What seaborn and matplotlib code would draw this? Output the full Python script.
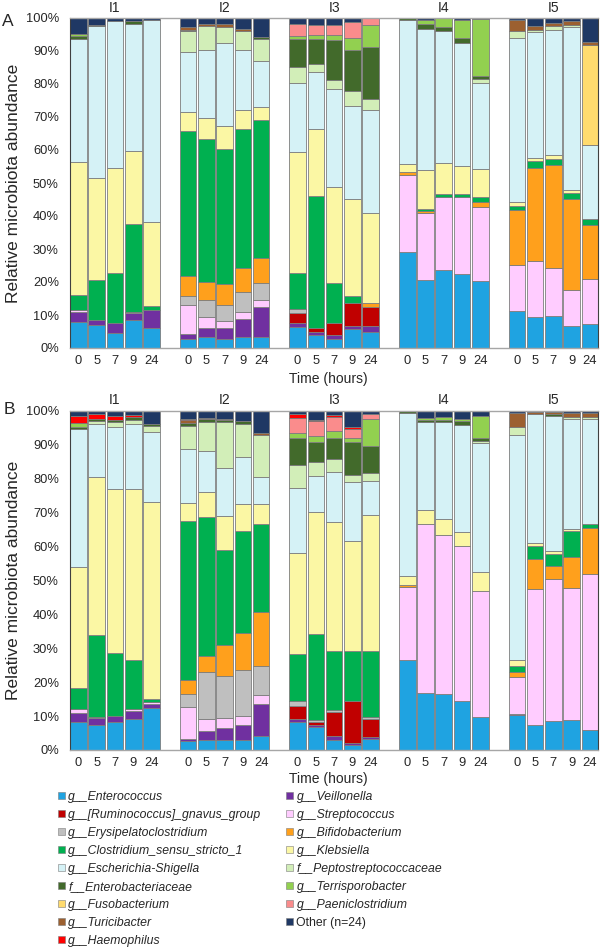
import numpy as np
import pandas as pd
import matplotlib
matplotlib.use("Agg")
import matplotlib.pyplot as plt
import seaborn as sns
from matplotlib.patches import Patch

# ---------------- data ----------------
times = ["0", "5", "7", "9", "24"]
individuals = ["I1", "I2", "I3", "I4", "I5"]

# stacking order, bottom -> top
taxa = ["ent", "vei", "rum", "str", "ery", "bif", "clo", "kle", "esc",
        "pep", "enb", "ter", "fus", "pae", "tur", "hae", "oth"]

names = {
    "ent": "g__Enterococcus", "rum": "g__[Ruminococcus]_gnavus_group",
    "ery": "g__Erysipelatoclostridium", "clo": "g__Clostridium_sensu_stricto_1",
    "esc": "g__Escherichia-Shigella", "enb": "f__Enterobacteriaceae",
    "fus": "g__Fusobacterium", "tur": "g__Turicibacter", "hae": "g__Haemophilus",
    "vei": "g__Veillonella", "str": "g__Streptococcus", "bif": "g__Bifidobacterium",
    "kle": "g__Klebsiella", "pep": "f__Peptostreptococcaceae",
    "ter": "g__Terrisporobacter", "pae": "g__Paeniclostridium", "oth": "Other (n=24)",
}
legend_order = ["ent", "rum", "ery", "clo", "esc", "enb", "fus", "tur", "hae",
                "vei", "str", "bif", "kle", "pep", "ter", "pae", "oth"]

colors = {
    "ent": "#1FA3E1", "rum": "#C00000", "ery": "#BFBFBF", "clo": "#00B050",
    "esc": "#D5F2F6", "enb": "#426A2B", "fus": "#FFDB6E", "tur": "#9C6030",
    "hae": "#FF0000", "vei": "#7030A0", "str": "#FFCCFF", "bif": "#FFA01C",
    "kle": "#FBF7A4", "pep": "#D2EEB8", "ter": "#92D050", "pae": "#FA8C8C",
    "oth": "#1F3864",
}

# Panel A (order: I1 0,5,7,9,24 | I2 ... | I5)
ent_A = [7.9, 6.9, 4.5, 8.6, 6.1,  2.6, 3.3, 2.8, 3.3, 3.3,  6.5, 3.9, 2.6, 5.7, 4.9,  29.1, 20.5, 23.5, 22.5, 20.3,  11.1, 9.4, 9.6, 6.6, 7.4]
vei_A = [3.0, 1.7, 3.1, 2.0, 5.5,  1.7, 2.9, 3.4, 5.4, 9.1,  1.0, 1.0, 1.3, 1.0, 1.8,  0, 0, 0, 0, 0,  0, 0, 0, 0, 0]
rum_A = [0, 0, 0, 0, 0,  0, 0, 0, 0, 0,  3.2, 1.1, 3.8, 7.0, 5.6,  0, 0, 0, 0, 0,  0, 0, 0, 0, 0]
str_A = [0.5, 0, 0, 0.3, 0,  8.8, 3.2, 2.0, 2.2, 2.2,  0, 0, 0, 0, 0,  23.4, 20.4, 22.3, 23.3, 22.5,  14.2, 17.0, 14.6, 11.1, 13.4]
ery_A = [0, 0, 0, 0, 0,  2.7, 5.2, 4.7, 6.1, 5.1,  1.0, 0, 0, 0, 0,  0, 0, 0, 0, 0,  0, 0, 0, 0, 0]
bif_A = [0, 0, 0, 0, 0,  5.9, 5.4, 6.4, 7.3, 7.7,  0, 0, 0, 0, 1.2,  0.7, 0.7, 0, 0, 1.4,  16.4, 28.1, 31.4, 27.6, 16.4]
clo_A = [4.6, 12.1, 15.2, 26.8, 1.0,  44.0, 43.4, 41.0, 42.0, 41.8,  10.9, 40.2, 12.1, 2.1, 0,  0, 0.5, 1.0, 1.0, 1.6,  1.2, 2.1, 1.7, 1.7, 2.0]
kle_A = [40.4, 30.8, 31.7, 21.9, 25.6,  5.8, 6.3, 7.1, 5.9, 3.8,  36.9, 20.2, 28.9, 29.4, 27.5,  2.7, 11.9, 9.3, 8.5, 8.4,  1.3, 1.0, 1.1, 1.0, 0]
esc_A = [37.2, 46.0, 44.5, 38.7, 61.1,  18.1, 20.5, 25.1, 18.0, 14.1,  20.7, 17.3, 29.8, 28.0, 31.1,  43.4, 42.8, 39.9, 37.1, 26.1,  49.7, 38.2, 38.1, 49.3, 22.2]
pep_A = [0, 0, 0, 0, 0,  6.5, 7.5, 4.9, 6.0, 6.6,  5.1, 2.4, 2.7, 4.6, 3.3,  0, 0, 0, 0, 1.3,  2.1, 0.7, 1.0, 0.7, 0]
enb_A = [1.0, 0.5, 0, 0.7, 0,  0.4, 0, 0, 0, 0.4,  8.2, 7.4, 12.1, 12.6, 15.7,  0.7, 1.4, 1.3, 1.5, 0.7,  0, 0, 0, 0, 0]
ter_A = [0.5, 0, 0, 0, 0,  0, 0, 0, 0, 0,  1.0, 1.3, 1.5, 3.5, 6.8,  0, 1.3, 2.7, 5.4, 17.4,  0, 0, 0, 0, 0]
fus_A = [0, 0, 0, 0, 0,  0, 0, 0, 0, 0,  0, 0, 0, 0, 0,  0, 0, 0, 0, 0,  0, 0, 0, 0, 30.5]
pae_A = [0, 0, 0, 0, 0,  0, 0, 0, 0, 0,  3.6, 3.1, 3.1, 4.8, 2.1,  0, 0, 0, 0, 0,  0, 0, 0, 0, 0]
tur_A = [0, 0, 0, 0, 0,  0.8, 0.5, 0.7, 0.4, 0,  0, 0, 0, 0, 0,  0, 0, 0, 0, 0,  3.3, 1.2, 1.0, 1.0, 0.7]
hae_A = [0] * 25
oth_A = [4.8, 2.0, 1.0, 1.0, 0.7,  2.7, 1.8, 2.0, 3.3, 5.9,  1.9, 2.1, 2.1, 1.4, 0,  0, 0.5, 0, 0.7, 0.3,  0.7, 2.3, 1.5, 1.0, 7.4]

# Panel B
ent_B = [8.3, 7.4, 8.3, 9.1, 12.5,  2.7, 2.9, 2.9, 2.9, 4.2,  8.2, 6.9, 2.9, 1.5, 3.1,  26.5, 16.9, 16.4, 14.4, 9.8,  10.2, 7.4, 8.6, 8.8, 5.9]
vei_B = [2.7, 2.0, 1.8, 2.4, 1.2,  0.4, 2.8, 3.5, 4.5, 9.3,  0.9, 0.5, 1.2, 0.5, 0.8,  0, 0, 0, 0, 0,  0.4, 0, 0, 0, 0]
rum_B = [0, 0, 0, 0, 0,  0, 0, 0, 0, 0,  4.0, 0.9, 7.0, 12.4, 5.2,  0, 0, 0, 0, 0,  0, 0, 0, 0, 0]
str_B = [1.0, 0, 0, 0.5, 0.5,  9.6, 3.4, 3.1, 2.6, 2.7,  0, 0, 0, 0, 0,  21.5, 49.8, 47.0, 45.6, 37.1,  10.8, 40.0, 41.7, 39.0, 45.9]
ery_B = [0, 0.4, 0, 0, 0,  3.7, 13.9, 12.3, 13.7, 8.6,  1.3, 0.5, 0.7, 0, 0.7,  0, 0, 0, 0, 0,  0, 0, 0, 0, 0]
bif_B = [0, 0, 0, 0, 0,  4.2, 4.7, 9.1, 10.8, 15.9,  0, 0, 0, 0, 0,  0.5, 0, 0, 0, 0,  1.6, 8.9, 4.0, 9.0, 13.6]
clo_B = [6.4, 24.0, 18.6, 14.5, 0.7,  47.0, 40.9, 28.1, 29.9, 26.0,  13.8, 25.3, 17.4, 14.8, 19.4,  0, 0, 0, 0, 0,  1.8, 3.7, 3.5, 7.6, 1.3]
kle_B = [35.5, 46.6, 48.2, 50.5, 58.1,  5.3, 7.4, 10.0, 8.1, 5.8,  30.0, 35.9, 38.1, 32.4, 40.1,  2.7, 3.9, 4.7, 4.2, 5.6,  1.7, 1.0, 0.9, 0.8, 0]
esc_B = [40.6, 15.7, 18.2, 19.1, 20.8,  15.8, 12.1, 14.0, 13.8, 8.1,  19.1, 10.7, 14.7, 17.3, 10.0,  48.2, 26.0, 28.5, 31.6, 38.1,  66.3, 37.9, 39.8, 32.5, 31.0]
pep_B = [0, 1.0, 1.7, 1.2, 1.8,  6.8, 8.7, 13.6, 9.8, 12.2,  6.7, 4.1, 3.8, 2.1, 2.4,  0, 0, 0, 0, 0.5,  2.3, 0, 0, 0.5, 0.5]
enb_B = [0.8, 0.4, 0.5, 0.7, 0.5,  1.0, 0.7, 0.7, 1.0, 0,  8.1, 5.9, 6.3, 9.7, 7.9,  0.6, 0.7, 0.7, 1.3, 1.0,  0, 0, 0.4, 0, 0]
ter_B = [1.0, 0, 0, 0, 0,  0, 0, 0, 0, 0,  1.2, 1.8, 2.0, 1.4, 8.1,  0, 0.6, 0.9, 0.6, 6.3,  0, 0, 0, 0, 0]
fus_B = [0] * 25
pae_B = [0, 0, 0, 0, 0,  0, 0, 0, 0, 0,  4.6, 4.6, 4.1, 2.5, 1.2,  0, 0, 0, 0, 0,  0, 0, 0, 0, 0]
tur_B = [0, 0, 0, 0, 0,  0.8, 0.4, 0.4, 0, 0.7,  0, 0, 0, 0, 0,  0, 0, 0, 0, 0,  4.3, 0.6, 0.6, 1.2, 1.0]
hae_B = [2.2, 1.4, 1.2, 0.7, 0,  0.4, 0, 0, 0, 0,  1.0, 0.3, 0.5, 0.7, 0,  0, 0, 0, 0, 0,  0, 0, 0, 0, 0]
oth_B = [1.5, 1.1, 1.5, 1.3, 3.9,  2.3, 2.1, 2.3, 2.9, 6.5,  1.1, 2.6, 1.3, 4.7, 1.1,  0, 2.1, 1.8, 2.3, 1.5,  0.6, 0.5, 0.5, 0.6, 0.8]

panel_A = {t: globals()[t + "_A"] for t in taxa}
panel_B = {t: globals()[t + "_B"] for t in taxa}

# ---------------- style ----------------
sns.set_theme(style="white")
plt.rcParams["font.family"] = ["Liberation Sans", "DejaVu Sans"]

fig = plt.figure(figsize=(6.0, 9.48), dpi=100)
W, H = 600.0, 948.0
axA = fig.add_axes([70 / W, 1 - 348 / H, 528.3 / W, 330 / H])
axB = fig.add_axes([70 / W, 1 - 750 / H, 528.3 / W, 339.3 / H])

positions = [g * 6 + k for g in range(5) for k in range(5)]
tick_labels = times * 5


def draw(ax, values, xlabel_y):
    rows = []
    for tax in taxa:
        for p, v in zip(positions, values[tax]):
            rows.append((p, tax, v))
    df = pd.DataFrame(rows, columns=["pos", "taxon", "value"])
    sns.histplot(data=df, x="pos", weights="value", hue="taxon",
                 hue_order=taxa[::-1], multiple="stack", discrete=True,
                 shrink=0.91, palette=colors, edgecolor="#7d7d7d",
                 linewidth=0.6, alpha=1, legend=False, ax=ax)
    ax.set_xlim(-0.46, 28.46)
    ax.set_ylim(0, 100)
    ax.set_yticks(range(0, 101, 10))
    ax.set_yticklabels([f"{v}%" for v in range(0, 101, 10)], fontsize=9.3)
    ax.set_xticks(positions)
    ax.set_xticklabels(tick_labels, fontsize=9.3)
    ax.tick_params(axis="both", length=0)
    ax.tick_params(axis="y", pad=8)
    ax.tick_params(axis="x", pad=5)
    ax.set_xlabel("Time (hours)", fontsize=10)
    ax.xaxis.set_label_coords((328 - 70) / 528.3, xlabel_y)
    ax.set_ylabel("Relative microbiota abundance", fontsize=12.5)
    ax.yaxis.set_label_coords(-0.093, 0.5)
    for s in ["top", "bottom"]:
        ax.spines[s].set_color("#a6a6a6")
        ax.spines[s].set_linewidth(1.0)
    for s in ["left", "right"]:
        ax.spines[s].set_color("#404040")
        ax.spines[s].set_linewidth(0.8)
    for g, ind in enumerate(individuals):
        ax.annotate(ind, xy=(g * 6 + 2, 1), xycoords=("data", "axes fraction"),
                    xytext=(0, 2.5), textcoords="offset points",
                    ha="center", va="bottom", fontsize=10)


draw(axA, panel_A, -0.074)
draw(axB, panel_B, -0.066)

fig.text(7.5 / W, 1 - 21 / H, "A", fontsize=12.5, ha="center", va="center")
fig.text(9.5 / W, 1 - 410 / H, "B", fontsize=12.5, ha="center", va="center")

handles = [Patch(facecolor=colors[t], edgecolor="#7d7d7d", linewidth=0.4) for t in legend_order]
labels = [names[t] for t in legend_order]
leg = fig.legend(handles, labels, ncol=2, loc="upper left",
                 bbox_to_anchor=(58 / W, 1 - 791 / H), frameon=False,
                 fontsize=8.8, handlelength=0.55, handleheight=0.55,
                 handletextpad=0.3, labelspacing=0.49, columnspacing=2.0,
                 borderpad=0, borderaxespad=0)
for txt in leg.get_texts():
    if not txt.get_text().startswith("Other"):
        txt.set_fontstyle("italic")

fig.savefig("out.png", dpi=100)
